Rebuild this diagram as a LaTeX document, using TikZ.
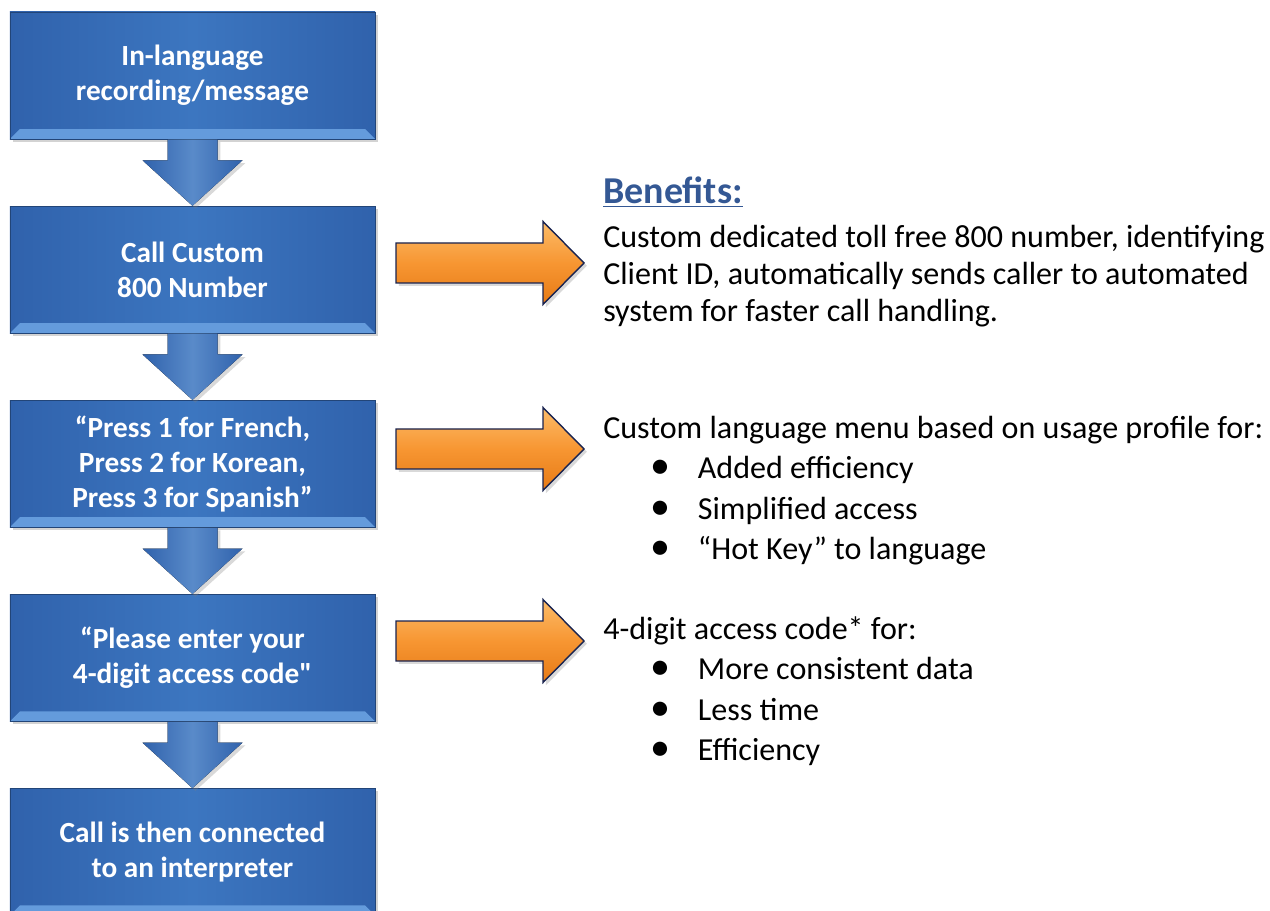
\documentclass[tikz,border=0pt]{standalone}
\usepackage{fontspec}
\setmainfont{Carlito}[Ligatures=TeXOff]
\usetikzlibrary{calc,positioning,shadows}

\definecolor{boxblue}{RGB}{60,118,192}
\definecolor{boxdark}{RGB}{48,98,172}
\definecolor{boxlight}{RGB}{100,155,220}
\definecolor{orangemid}{RGB}{247,150,50}
\definecolor{orangelight}{RGB}{252,188,105}
\definecolor{orangedark}{RGB}{230,122,22}
\definecolor{navyedge}{RGB}{25,35,80}
\definecolor{benefitblue}{RGB}{52,88,148}

\newcommand{\bulletline}[1]{\makebox[67.3pt][l]{\hspace{33.5pt}\scalebox{1.25}{\textbullet}}#1}
% blue block arrow from one step down to the next
\newcommand{\blockdown}[2]{%
\fill[downarrow] ($(#1.south)+(-25,0)$) -- ($(#1.south)+(25,0)$) --
($(#1.south)+(25,21)$) -- ($(#1.south)+(50,21)$) -- (#2.north) --
($(#1.south)+(-50,21)$) -- ($(#1.south)+(-25,21)$) -- cycle;}
% orange block arrow, #1 is the middle of its tail
\newcommand{\blockright}[1]{%
\draw[rightarrow] ($(#1)+(0,-20)$) -- ($(#1)+(147,-20)$) --
($(#1)+(147,-41.5)$) -- ($(#1)+(188,0)$) -- ($(#1)+(147,41.5)$) --
($(#1)+(147,20)$) -- ($(#1)+(0,20)$) -- cycle;}

\tikzset{
stepbox/.style={rectangle, draw=boxdark!70!black, line width=0.4pt,
  left color=boxdark, right color=boxdark, middle color=boxblue,
  minimum width=9.125cm, minimum height=3.175cm, align=center,
  text=white, font=\bfseries\fontsize{20.8}{25}\selectfont,
  drop shadow={shadow xshift=2pt, shadow yshift=-2pt, opacity=0.35},
  path picture={
    \fill[boxlight] (path picture bounding box.south west) --
    (path picture bounding box.south east) --
    ([shift={(-10,-10)}]path picture bounding box.south east) --
    ([shift={(10,-10)}]path picture bounding box.south west) -- cycle;
  }},
downarrow/.style={left color=boxdark, right color=boxdark, middle color=boxblue!85!white,
  drop shadow={shadow xshift=2pt, shadow yshift=-2pt, opacity=0.3}},
rightarrow/.style={draw=navyedge, line width=1pt, line join=miter,
  top color=orangelight, bottom color=orangedark, middle color=orangemid,
  drop shadow={shadow xshift=2pt, shadow yshift=-2pt, opacity=0.3}},
bodytext/.style={align=left, inner sep=0pt, font=\fontsize{22.8}{26.6}\selectfont},
listtext/.style={align=left, inner sep=0pt, font=\fontsize{22.8}{28.7}\selectfont}
}

\begin{document}
\begin{tikzpicture}[x=0.025cm, y=-0.025cm, node distance=1.6625cm]
\useasboundingbox (0,0) rectangle (1270,911);

\node[stepbox] (rec) at (192.5,75.5) {In-language\\recording/message};
\node[stepbox, below=of rec] (call) {Call Custom\\800 Number};
\node[stepbox, below=of call] (press) {“Press 1 for French,\\Press 2 for Korean,\\Press 3 for Spanish”};
\node[stepbox, below=of press] (code) {“Please enter your\\4-digit access code"};
\node[stepbox, below=of code] (interp) {Call is then connected\\to an interpreter};

\blockdown{rec}{call}
\blockdown{call}{press}
\blockdown{press}{code}
\blockdown{code}{interp}

\coordinate (o1) at (396,263);
\coordinate (o2) at (396,449);
\coordinate (o3) at (396,641);
\blockright{o1}
\blockright{o2}
\blockright{o3}

% text nodes sit on the baseline of their last line
\node[anchor=base west, inner sep=0pt, text=benefitblue,
  font=\bfseries\fontsize{27}{30}\selectfont] (benhead) at (603,204) {\underline{Benefits:}};
\node[bodytext, anchor=base west] (bentext) at (603,322)
  {Custom dedicated toll free 800 number, identifying\\
   Client ID, automatically sends caller to automated\\
   system for faster call handling.};
\node[listtext, anchor=base west] (menu) at (603,559.5)
  {Custom language menu based on usage profile for:\\
   \bulletline{Added efficiency}\\
   \bulletline{Simplified access}\\
   \bulletline{“Hot Key” to language}};
\node[listtext, anchor=base west] (digits) at (603,760.5)
  {4-digit access code* for:\\
   \bulletline{More consistent data}\\
   \bulletline{Less time}\\
   \bulletline{Efficiency}};
\end{tikzpicture}
\end{document}
